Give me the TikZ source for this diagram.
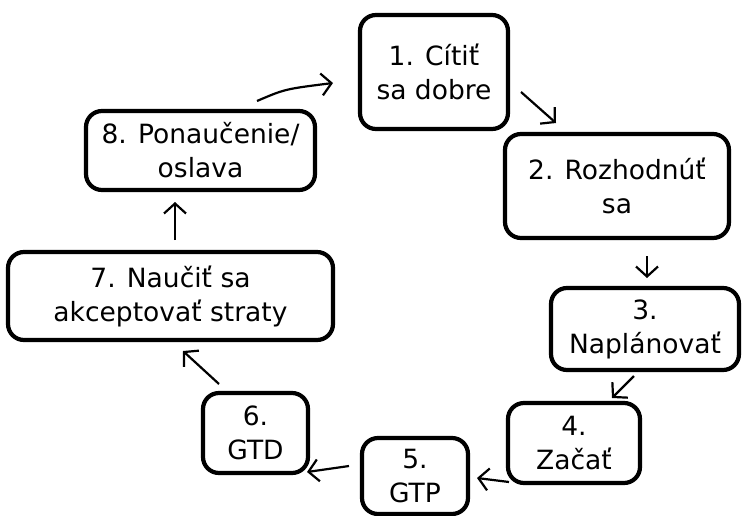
\documentclass[tikz,border=0pt]{standalone}
\usepackage{fontspec}
\setmainfont{DejaVu Sans}
\usetikzlibrary{arrows.meta}
\begin{document}
\begin{tikzpicture}[x=1pt,y=-1pt,
  stepbox/.style={draw=black,line width=4.2pt,rounded corners=16pt,inner sep=0pt,
    align=center,font=\fontsize{26.5}{34}\selectfont},
  conn/.style={line width=2.2pt,-{Straight Barb[length=10pt,width=22pt,line width=2.2pt]}}]
\useasboundingbox (0,0) rectangle (742,515);
\node[stepbox,minimum width=148pt,minimum height=114pt] (b1) at (434,72) {1. Cítiť\\sa dobre};
\node[stepbox,minimum width=224pt,minimum height=104pt] (b2) at (617,186) {2. Rozhodnúť\\sa};
\node[stepbox,minimum width=188pt,minimum height=82pt] (b3) at (645,329) {3.\\Naplánovať};
\node[stepbox,minimum width=132pt,minimum height=80pt] (b4) at (574,443) {4.\\Začať};
\node[stepbox,minimum width=106pt,minimum height=76pt] (b5) at (415,476) {5.\\GTP};
\node[stepbox,minimum width=105pt,minimum height=80pt] (b6) at (255.5,433) {6.\\GTD};
\node[stepbox,minimum width=325pt,minimum height=88pt] (b7) at (170.5,296) {7. Naučiť sa\\akceptovať straty};
\node[stepbox,minimum width=229pt,minimum height=79pt] (b8) at (200.5,150.5) {8. Ponaučenie/\\oslava};
% arrow end points
\coordinate (p81) at (257,101); \coordinate (q81) at (333,83);
\coordinate (p12) at (521,92);  \coordinate (q12) at (556,123);
\coordinate (p23) at (647,256); \coordinate (q23) at (647,278);
\coordinate (p34) at (634,376); \coordinate (q34) at (612,398);
\coordinate (p45) at (509,482); \coordinate (q45) at (477,478);
\coordinate (p56) at (349,466); \coordinate (q56) at (307,472);
\coordinate (p67) at (219,384); \coordinate (q67) at (183,351);
\coordinate (p78) at (175,240); \coordinate (q78) at (175,202);
\draw[conn] (p81) .. controls (285,89) .. (q81);
\draw[conn] (p12) -- (q12);
\draw[conn] (p23) -- (q23);
\draw[conn] (p34) -- (q34);
\draw[conn] (p45) -- (q45);
\draw[conn] (p56) -- (q56);
\draw[conn] (p67) -- (q67);
\draw[conn] (p78) -- (q78);
\end{tikzpicture}
\end{document}
